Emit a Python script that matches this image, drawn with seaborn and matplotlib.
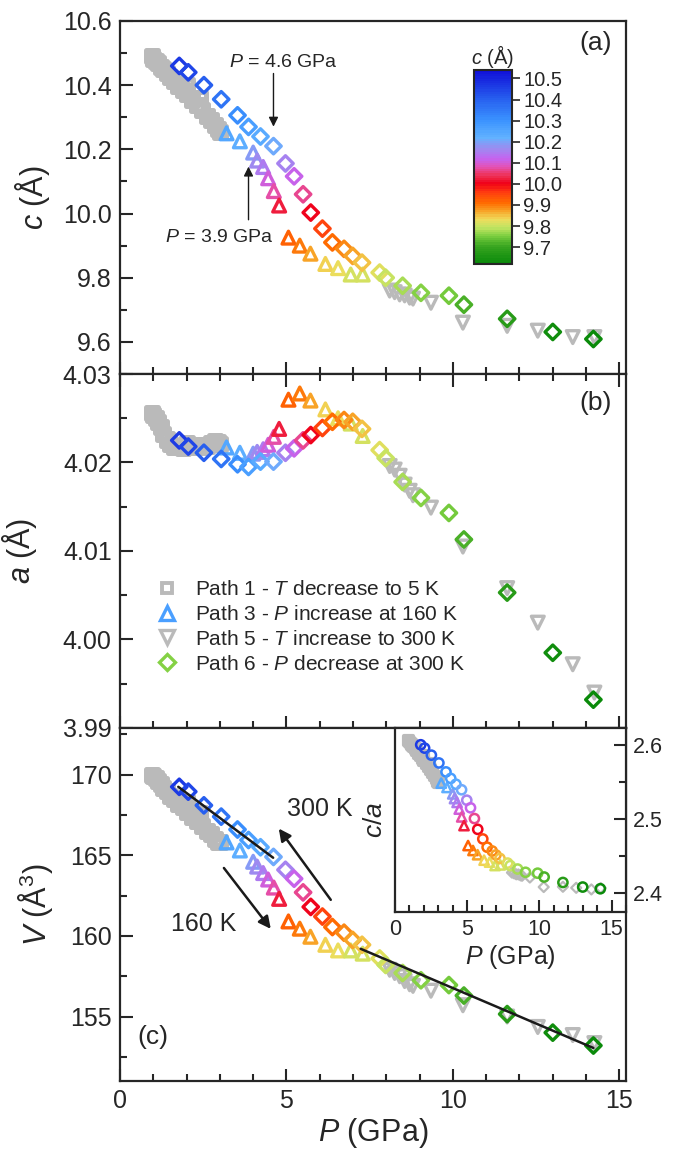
import numpy as np
import matplotlib
matplotlib.use("Agg")
import matplotlib.pyplot as plt
import seaborn as sns
from matplotlib.colors import LinearSegmentedColormap, Normalize
from matplotlib.cm import ScalarMappable
from matplotlib.ticker import MultipleLocator, FormatStrFormatter
from matplotlib.lines import Line2D

# ---------------- data ----------------
# Path 1 - T decrease to 5 K (gray squares)
P1 = [0.95, 1.00, 1.08, 1.15, 1.22, 1.30, 1.40, 1.50, 1.62, 1.75, 1.88, 2.00, 2.15, 2.30, 2.45, 2.60, 2.72, 2.85, 2.95, 3.00, 2.00, 2.40]
c1 = [10.490, 10.482, 10.476, 10.468, 10.458, 10.450, 10.438, 10.425, 10.412, 10.398, 10.385, 10.372, 10.355, 10.338, 10.322, 10.305, 10.290, 10.275, 10.262, 10.255, 10.400, 10.360]
a1 = [4.0256, 4.0254, 4.0250, 4.0246, 4.0240, 4.0232, 4.0226, 4.0221, 4.0218, 4.0217, 4.0216, 4.0218, 4.0219, 4.0218, 4.0217, 4.0219, 4.0222, 4.0224, 4.0223, 4.0221, 4.0222, 4.0220]
V1 = [170.0, 169.9, 169.8, 169.6, 169.4, 169.2, 169.0, 168.7, 168.5, 168.2, 168.0, 167.7, 167.4, 167.1, 166.8, 166.5, 166.3, 166.0, 165.8, 165.8, 168.3, 167.6]

# Path 3 - P increase at 160 K (triangles up, coloured by c)
P3 = [3.20, 3.60, 4.00, 4.12, 4.30, 4.45, 4.62, 4.78, 5.06, 5.40, 5.72, 6.17, 6.55, 6.93, 7.29]
c3 = [10.250, 10.225, 10.190, 10.165, 10.145, 10.110, 10.070, 10.025, 9.925, 9.900, 9.875, 9.843, 9.830, 9.810, 9.810]
a3 = [4.0217, 4.0211, 4.0210, 4.0212, 4.0215, 4.0220, 4.0229, 4.0238, 4.0271, 4.0278, 4.0270, 4.0260, 4.0250, 4.0244, 4.0230]
V3 = [165.8, 165.3, 164.6, 164.3, 163.9, 163.5, 163.0, 162.3, 160.9, 160.45, 159.95, 159.45, 159.1, 159.1, 158.9]

# Path 5 - T increase to 300 K (gray triangles down)
P5 = [8.10, 8.25, 8.40, 8.55, 8.70, 8.80, 9.34, 10.30, 11.63, 12.55, 13.60, 14.25]
c5 = [9.760, 9.755, 9.748, 9.745, 9.738, 9.735, 9.722, 9.660, 9.650, 9.635, 9.615, 9.615]
a5 = [4.0196, 4.0192, 4.0185, 4.0175, 4.0168, 4.0163, 4.0149, 4.0105, 4.0058, 4.0019, 3.9972, 3.9940]
V5 = [157.9, 157.7, 157.5, 157.2, 157.0, 156.9, 156.6, 155.7, 155.0, 154.35, 153.85, 153.35]

# Path 6 - P decrease at 300 K (diamonds, coloured by c)
P6 = [1.78, 2.05, 2.52, 3.04, 3.53, 3.86, 4.22, 4.61, 4.97, 5.23, 5.50, 5.73, 6.08, 6.38, 6.73, 6.99, 7.27, 7.80, 7.98, 8.49, 9.04, 9.88, 10.33, 11.63, 13.00, 14.22]
c6 = [10.460, 10.440, 10.400, 10.356, 10.306, 10.270, 10.240, 10.210, 10.156, 10.116, 10.060, 10.003, 9.953, 9.910, 9.890, 9.868, 9.847, 9.816, 9.800, 9.775, 9.753, 9.744, 9.716, 9.672, 9.631, 9.609]
a6 = [4.0225, 4.0218, 4.0211, 4.0204, 4.0198, 4.0195, 4.0201, 4.0201, 4.0211, 4.0216, 4.0225, 4.0231, 4.0239, 4.0246, 4.0248, 4.0246, 4.0238, 4.0214, 4.0205, 4.0178, 4.0160, 4.0143, 4.0113, 4.0053, 3.9985, 3.9932]
V6 = [169.25, 168.95, 168.1, 167.4, 166.6, 165.95, 165.5, 164.9, 164.1, 163.55, 162.7, 161.8, 161.2, 160.55, 160.2, 159.75, 159.45, 158.6, 158.2, 157.7, 157.25, 156.95, 156.3, 155.15, 154.0, 153.2]

# linear guides in panel (c)
fit1_P = [1.75, 4.60]
fit1_V = [169.25, 164.85]
fit2_P = [7.23, 14.22]
fit2_V = [159.2, 153.05]

legend_labels = ["Path 1 - $T$ decrease to 5 K", "Path 3 - $P$ increase at 160 K",
                 "Path 5 - $T$ increase to 300 K", "Path 6 - $P$ decrease at 300 K"]
cbar_ticks = [9.7, 9.8, 9.9, 10.0, 10.1, 10.2, 10.3, 10.4, 10.5]

# ---------------- style ----------------
sns.set_theme(style="ticks")
plt.rcParams["font.family"] = ["Liberation Sans", "DejaVu Sans"]
plt.rcParams["mathtext.fontset"] = "custom"
plt.rcParams["mathtext.rm"] = "Liberation Sans"
plt.rcParams["mathtext.it"] = "Liberation Sans:italic"
plt.rcParams["mathtext.bf"] = "Liberation Sans:bold"
plt.rcParams["axes.linewidth"] = 1.6

GRAY = "#bababa"
cnodes = [(9.62, "#0a8a0a"), (9.70, "#38a520"), (9.75, "#7ccf40"), (9.79, "#c2e462"),
          (9.83, "#efdc5c"), (9.87, "#f8a024"), (9.91, "#ff6a00"), (9.96, "#ff3c10"),
          (10.00, "#f00018"), (10.04, "#ee3258"), (10.08, "#e452b4"), (10.12, "#c464f0"),
          (10.17, "#9c8cf0"), (10.22, "#62b2ff"), (10.30, "#3c94ff"), (10.40, "#2862f0"),
          (10.54, "#1010d8")]
cmin, cmax = 9.62, 10.54
cmap = LinearSegmentedColormap.from_list(
    "cgrad", [((v - cmin) / (cmax - cmin), col) for v, col in cnodes], N=90)
norm = Normalize(vmin=cmin, vmax=cmax)


def open_scatter(ax, x, y, marker, s, lw, hue=None, color=None, z=3):
    if hue is None:
        sns.scatterplot(x=x, y=y, ax=ax, marker=marker, s=s, color=color,
                        linewidth=lw, legend=False, zorder=z)
    else:
        sns.scatterplot(x=x, y=y, hue=hue, palette=cmap, hue_norm=norm, ax=ax,
                        marker=marker, s=s, linewidth=lw, legend=False, zorder=z)
    coll = ax.collections[-1]
    fc = coll.get_facecolors()
    coll.set_edgecolors(fc)
    coll.set_facecolors("none")
    coll.set_linewidths(lw)


fig = plt.figure(figsize=(6.8, 11.59), dpi=100)
L, W = 0.1765, 0.7441
axA = fig.add_axes([L, 0.6773, W, 0.3046])
axB = fig.add_axes([L, 0.3719, W, 0.3054])
axC = fig.add_axes([L, 0.0673, W, 0.3046])

for ax in (axA, axB, axC):
    ax.set_xlim(0, 15.2)
    ax.xaxis.set_major_locator(MultipleLocator(5))
    ax.xaxis.set_minor_locator(MultipleLocator(1))
    ax.tick_params(which="both", direction="in", width=1.5, labelsize=18,
                   left=True, right=False, pad=6)
    ax.tick_params(which="major", length=9)
    ax.tick_params(which="minor", length=5)
    for sp in ax.spines.values():
        sp.set_linewidth(1.6)
axA.tick_params(which="both", top=False, bottom=True, labelbottom=False)
axB.tick_params(which="both", top=True, bottom=True, labelbottom=False)
axC.tick_params(which="both", top=False, bottom=True, labelbottom=True)

S_SQ, S_TRI, S_DIA = 75, 85, 62
LW = 2.4
LW_SQ = 3.6

# ---- panel (a) ----
open_scatter(axA, P1, c1, "s", S_SQ, LW_SQ, color=GRAY, z=2)
open_scatter(axA, P5, c5, "v", S_TRI, LW, color=GRAY, z=2)
open_scatter(axA, P3, c3, "^", S_TRI, LW, hue=c3, z=3)
open_scatter(axA, P6, c6, "D", S_DIA, LW, hue=c6, z=4)
axA.set_ylim(9.5, 10.6)
axA.yaxis.set_major_locator(MultipleLocator(0.2))
axA.yaxis.set_minor_locator(MultipleLocator(0.1))
axA.yaxis.set_major_formatter(FormatStrFormatter("%.1f"))
axA.set_ylabel("$c$ (Å)", fontsize=22)
axA.yaxis.set_label_coords(-0.135, 0.5)
axA.text(14.3, 10.53, "(a)", fontsize=19, ha="center", va="center")
axA.text(4.9, 10.472, "$P$ = 4.6 GPa", fontsize=14, ha="center", va="center")
axA.annotate("", xy=(4.61, 10.262), xytext=(4.61, 10.445),
             arrowprops=dict(arrowstyle="-|>", color="k", lw=1.0, mutation_scale=14))
axA.text(3.0, 9.925, "$P$ = 3.9 GPa", fontsize=14, ha="center", va="center")
axA.annotate("", xy=(3.86, 10.155), xytext=(3.86, 9.972),
             arrowprops=dict(arrowstyle="-|>", color="k", lw=1.0, mutation_scale=14))

# colour bar
cax = fig.add_axes([0.697, 0.7722, 0.0559, 0.1674])
cb = fig.colorbar(ScalarMappable(norm=norm, cmap=cmap), cax=cax, ticks=cbar_ticks)
cb.outline.set_linewidth(1.5)
cax.yaxis.set_major_formatter(FormatStrFormatter("%.1f"))
cax.tick_params(labelsize=14.5, direction="out", length=6, width=1.2, pad=2)
cax.set_title("$c$ (Å)", fontsize=14.5, pad=4)

# ---- panel (b) ----
open_scatter(axB, P1, a1, "s", S_SQ, LW_SQ, color=GRAY, z=2)
open_scatter(axB, P5, a5, "v", S_TRI, LW, color=GRAY, z=2)
open_scatter(axB, P3, a3, "^", S_TRI, LW, hue=c3, z=3)
open_scatter(axB, P6, a6, "D", S_DIA, LW, hue=c6, z=4)
axB.set_ylim(3.99, 4.03)
axB.yaxis.set_major_locator(MultipleLocator(0.01))
axB.yaxis.set_minor_locator(MultipleLocator(0.005))
axB.yaxis.set_major_formatter(FormatStrFormatter("%.2f"))
axB.set_ylabel("$a$ (Å)", fontsize=22)
axB.yaxis.set_label_coords(-0.16, 0.5)
axB.text(14.3, 4.0267, "(b)", fontsize=19, ha="center", va="center")

col3 = cmap(norm(10.27))
col6 = cmap(norm(9.76))
handles = [
    Line2D([], [], ls="none", marker="s", ms=7.5, mfc="none", mec=GRAY, mew=2.8),
    Line2D([], [], ls="none", marker="^", ms=9.5, mfc="none", mec=col3, mew=2.4),
    Line2D([], [], ls="none", marker="v", ms=9.5, mfc="none", mec=GRAY, mew=2.4),
    Line2D([], [], ls="none", marker="D", ms=8, mfc="none", mec=col6, mew=2.4),
]
axB.legend(handles, legend_labels, loc="upper left", bbox_to_anchor=(0.072, 0.418),
           frameon=False, fontsize=15, handlelength=1.0, handletextpad=0.85,
           labelspacing=0.28, borderpad=0, borderaxespad=0)

# ---- panel (c) ----
open_scatter(axC, P1, V1, "s", S_SQ, LW_SQ, color=GRAY, z=2)
open_scatter(axC, P5, V5, "v", S_TRI, LW, color=GRAY, z=2)
open_scatter(axC, P3, V3, "^", S_TRI, LW, hue=c3, z=3)
open_scatter(axC, P6, V6, "D", S_DIA, LW, hue=c6, z=4)
sns.lineplot(x=fit1_P, y=fit1_V, ax=axC, color="k", lw=1.8, zorder=5)
sns.lineplot(x=fit2_P, y=fit2_V, ax=axC, color="k", lw=1.8, zorder=5)
axC.set_ylim(151.0, 172.9)
axC.yaxis.set_major_locator(MultipleLocator(5))
axC.yaxis.set_minor_locator(MultipleLocator(2.5))
axC.set_ylabel("$V$ (Å$^{\\mathrm{3}}$)", fontsize=22)
axC.yaxis.set_label_coords(-0.128, 0.5)
axC.set_xlabel("$P$ (GPa)", fontsize=22, labelpad=2)
axC.text(1.0, 153.7, "(c)", fontsize=19, ha="center", va="center")
axC.annotate("", xy=(4.72, 166.8), xytext=(6.38, 162.1),
             arrowprops=dict(arrowstyle="-|>", color="k", lw=1.8, mutation_scale=18))
axC.text(6.0, 167.9, "300 K", fontsize=18, ha="center", va="center")
axC.annotate("", xy=(4.58, 160.3), xytext=(3.07, 164.35),
             arrowprops=dict(arrowstyle="-|>", color="k", lw=1.8, mutation_scale=18))
axC.text(2.5, 160.75, "160 K", fontsize=18, ha="center", va="center")

# ---- inset c/a ----
axI = fig.add_axes([0.5809, 0.2131, 0.3397, 0.1588])
ca1 = np.array(c1) / np.array(a1)
ca3 = np.array(c3) / np.array(a3)
ca5 = np.array(c5) / np.array(a5)
ca6 = np.array(c6) / np.array(a6)
open_scatter(axI, P1, ca1, "s", 40, 3.0, color=GRAY, z=2)
open_scatter(axI, P5, ca5, "D", 26, 1.6, color=GRAY, z=2)
open_scatter(axI, P3, ca3, "^", 45, 1.8, hue=c3, z=3)
open_scatter(axI, P6, ca6, "o", 44, 1.8, hue=c6, z=4)
axI.set_xlim(0, 16)
axI.set_ylim(2.375, 2.623)
axI.xaxis.set_major_locator(MultipleLocator(5))
axI.xaxis.set_minor_locator(MultipleLocator(1))
axI.yaxis.set_major_locator(MultipleLocator(0.1))
axI.yaxis.set_minor_locator(MultipleLocator(0.05))
axI.yaxis.set_major_formatter(FormatStrFormatter("%.1f"))
axI.tick_params(which="both", direction="in", width=1.5, labelsize=15.5,
                left=False, labelleft=False, right=True, labelright=True,
                top=False, bottom=True, pad=5)
axI.tick_params(which="major", length=9)
axI.tick_params(which="minor", length=5)
for sp in axI.spines.values():
    sp.set_linewidth(1.6)
axI.yaxis.set_label_position("left")
axI.set_ylabel("$c/a$", fontsize=19, labelpad=6)
axI.set_xlabel("$P$ (GPa)", fontsize=18, labelpad=2)

fig.savefig("out.png", dpi=100)
